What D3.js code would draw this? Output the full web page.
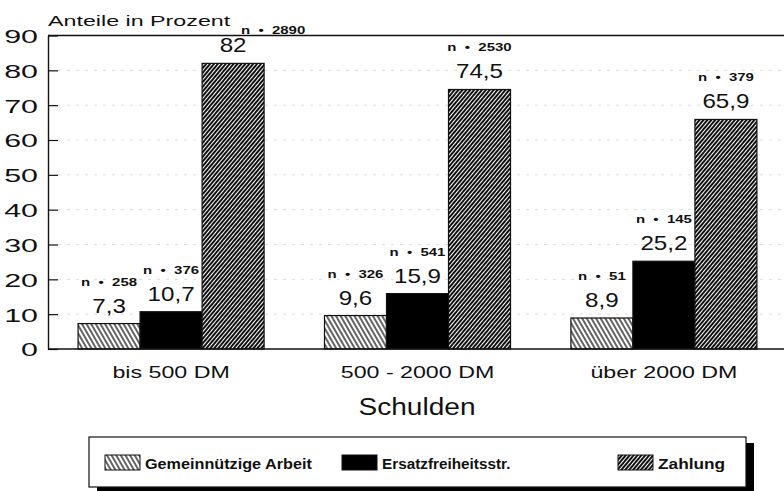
<!DOCTYPE html>
<meta charset="utf-8">
<script src="https://d3js.org/d3.v7.min.js"></script>
<style>
  body { margin: 0; background: #fff; }
  text { font-family: "Liberation Sans", Arial, sans-serif; fill: #111; }
</style>
<body>
<div id="chart"></div>
<script>

// data
var categories = ["bis 500 DM", "500 - 2000 DM", "über 2000 DM"];
var seriesNames = ["Gemeinnützige Arbeit", "Ersatzfreiheitsstr.", "Zahlung"];
var gemeinnuetzig = [7.3, 9.6, 8.9];
var ersatz = [10.7, 15.9, 25.2];
var zahlung = [82, 74.5, 65.9];
var nGemein = [258, 326, 51];
var nErsatz = [376, 541, 145];
var nZahlung = [2890, 2530, 379];
var yTicks = [0, 10, 20, 30, 40, 50, 60, 70, 80, 90];

var W = 784, H = 491;
var plotLeft = 48, plotRight = 784, plotTop = 35.5, plotBottom = 349;

var svg = d3.select("#chart").append("svg")
    .attr("width", W)
    .attr("height", H);

var defs = svg.append("defs");
// "\\\" hatch
var p1 = defs.append("pattern")
    .attr("id", "hatchBack")
    .attr("patternUnits", "userSpaceOnUse")
    .attr("width", 4).attr("height", 4)
    .attr("patternTransform", "rotate(-30)");
p1.append("rect").attr("width", 4).attr("height", 4).attr("fill", "#fff");
p1.append("line").attr("x1", 1).attr("y1", 0).attr("x2", 1).attr("y2", 4)
    .attr("stroke", "#111").attr("stroke-width", 1.3);
// dense "///" hatch
var p2 = defs.append("pattern")
    .attr("id", "hatchFwd")
    .attr("patternUnits", "userSpaceOnUse")
    .attr("width", 3).attr("height", 3)
    .attr("patternTransform", "rotate(40)");
p2.append("rect").attr("width", 3).attr("height", 3).attr("fill", "#fff");
p2.append("line").attr("x1", 1).attr("y1", 0).attr("x2", 1).attr("y2", 3)
    .attr("stroke", "#111").attr("stroke-width", 2.0);

var fills = ["url(#hatchBack)", "#000", "url(#hatchFwd)"];

// widen text like the old plotter font
function stretch(sel, k) {
  sel.each(function() {
    var L = this.getComputedTextLength();
    d3.select(this).attr("textLength", L * k).attr("lengthAdjust", "spacingAndGlyphs");
  });
}

var y = d3.scaleLinear().domain([0, 90]).range([plotBottom, plotTop]);

var x0 = d3.scaleBand()
    .domain(categories)
    .range([plotLeft, 787])
    .paddingInner(0.245)
    .paddingOuter(0.122);

var x1 = d3.scaleBand()
    .domain(seriesNames)
    .range([0, x0.bandwidth()]);

// faint grid
svg.append("g").selectAll("line")
  .data(yTicks.slice(1, -1))
  .enter().append("line")
    .attr("x1", plotLeft + 10).attr("x2", plotRight)
    .attr("y1", function(d) { return y(d); })
    .attr("y2", function(d) { return y(d); })
    .attr("stroke", "#ddd")
    .attr("stroke-dasharray", "3,6");

// frame top
svg.append("line").attr("x1", plotLeft).attr("x2", plotRight)
    .attr("y1", y(90)).attr("y2", y(90))
    .attr("stroke", "#111").attr("stroke-width", 1.4);

// y axis
var yAxis = svg.append("g")
    .attr("transform", "translate(" + plotLeft + ",0)")
    .call(d3.axisLeft(y).tickValues(yTicks).tickSizeInner(-10).tickSizeOuter(0).tickPadding(10));
yAxis.select(".domain").attr("stroke", "#111").attr("stroke-width", 1.4);
yAxis.selectAll(".tick line").attr("stroke", "#111").attr("stroke-width", 1.2);
yAxis.selectAll(".tick text")
    .attr("font-size", 19)
    .attr("dy", "0.36em")
    .style("font-family", "'Liberation Sans', Arial, sans-serif")
    .attr("fill", "#111");
stretch(yAxis.selectAll(".tick text"), 1.6);

svg.append("text")
    .attr("x", plotLeft)
    .attr("y", 26)
    .attr("font-size", 15)
    .text("Anteile in Prozent")
    .call(stretch, 1.55);

// bars
var rows = categories.map(function(c, i) {
  return [
    {cat: c, s: seriesNames[0], v: gemeinnuetzig[i], n: nGemein[i], k: 0},
    {cat: c, s: seriesNames[1], v: ersatz[i], n: nErsatz[i], k: 1},
    {cat: c, s: seriesNames[2], v: zahlung[i], n: nZahlung[i], k: 2}
  ];
});
var flat = [].concat.apply([], rows);

var bars = svg.append("g");
bars.selectAll("rect")
  .data(flat)
  .enter().append("rect")
    .attr("x", function(d) { return x0(d.cat) + x1(d.s); })
    .attr("y", function(d) { return y(d.v); })
    .attr("width", x1.bandwidth())
    .attr("height", function(d) { return y(0) - y(d.v); })
    .attr("fill", function(d) { return fills[d.k]; })
    .attr("stroke", "#111")
    .attr("stroke-width", 1.2);

svg.append("line").attr("x1", plotLeft).attr("x2", plotRight)
    .attr("y1", y(0)).attr("y2", y(0))
    .attr("stroke", "#111").attr("stroke-width", 1.5);

function cx(d) { return x0(d.cat) + x1(d.s) + x1.bandwidth() / 2; }

bars.selectAll("text.val")
  .data(flat)
  .enter().append("text")
    .attr("class", "val")
    .attr("x", cx)
    .attr("y", function(d) { return y(d.v) - 11; })
    .attr("text-anchor", "middle")
    .attr("font-size", 21)
    .text(function(d) { return String(d.v).replace(".", ","); })
    .call(stretch, 1.15);

// n labels; the one that would hit the frame is pushed aside
bars.selectAll("text.n")
  .data(flat)
  .enter().append("text")
    .attr("class", "n")
    .attr("x", function(d) {
      var yy = y(d.v) - 38;
      return yy < plotTop + 4 ? cx(d) + 40 : cx(d);
    })
    .attr("y", function(d) {
      var yy = y(d.v) - 38;
      return yy < plotTop + 4 ? plotTop - 1.5 : yy;
    })
    .attr("text-anchor", "middle")
    .attr("font-size", 11.5)
    .attr("font-weight", "bold")
    .attr("xml:space", "preserve")
    .text(function(d) { return "n  \u2022  " + d.n; })
    .call(stretch, 1.3);

// category labels
svg.append("g").selectAll("text")
  .data(categories)
  .enter().append("text")
    .attr("x", function(d) { return x0(d) + x0.bandwidth() / 2; })
    .attr("y", 378)
    .attr("text-anchor", "middle")
    .attr("font-size", 16)
    .text(function(d) { return d; })
    .call(stretch, 1.45);

svg.append("text")
    .attr("x", 417)
    .attr("y", 415)
    .attr("text-anchor", "middle")
    .attr("font-size", 23)
    .text("Schulden")
    .call(stretch, 1.22);

// legend
var lg = svg.append("g");
lg.append("rect").attr("x", 97).attr("y", 443).attr("width", 657).attr("height", 50).attr("fill", "#000");
lg.append("rect").attr("x", 89).attr("y", 437).attr("width", 657).attr("height", 50)
    .attr("fill", "#fff").attr("stroke", "#111").attr("stroke-width", 1.2);

var legX = [105, 342, 618];
var legK = [1.08, 1.02, 1.15];
seriesNames.forEach(function(s, i) {
  lg.append("rect")
    .attr("x", legX[i]).attr("y", 455)
    .attr("width", 35).attr("height", 15)
    .attr("fill", fills[i])
    .attr("stroke", "#111").attr("stroke-width", 1);
  var t = lg.append("text")
    .attr("x", legX[i] + 40)
    .attr("y", 469)
    .attr("font-size", 15)
    .attr("font-weight", "bold")
    .text(s);
  var L = t.node().getComputedTextLength();
  t.attr("textLength", L * legK[i]).attr("lengthAdjust", "spacingAndGlyphs");
});

</script>
</body>
